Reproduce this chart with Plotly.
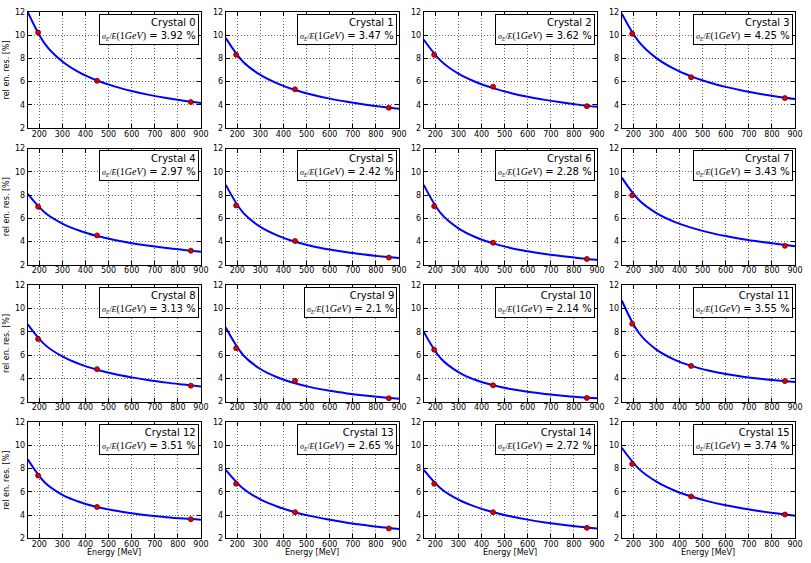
import plotly.graph_objects as go
from plotly.subplots import make_subplots

# ---------------- data ----------------
crystals = list(range(16))
resolution_1gev = [3.92, 3.47, 3.62, 4.25, 2.97, 2.42, 2.28, 3.43,
                   3.13, 2.1, 2.14, 3.55, 3.51, 2.65, 2.72, 3.74]

# measured points (energy MeV, rel. resolution %)
meas_energy = [
    [195, 450, 856], [195, 450, 856], [195, 450, 856], [195, 450, 856],
    [195, 450, 856], [195, 450, 856], [195, 450, 856], [195, 856],
    [195, 450, 856], [195, 450, 856], [195, 450, 856], [195, 450, 856],
    [195, 450, 856], [195, 450, 856], [195, 450, 856], [195, 450, 856],
]
meas_res = [
    [10.22, 6.06, 4.24], [8.30, 5.33, 3.74], [8.30, 5.56, 3.88], [10.12, 6.37, 4.58],
    [7.00, 4.53, 3.21], [7.11, 4.05, 2.62], [7.05, 3.90, 2.50], [7.98, 3.63],
    [7.39, 4.79, 3.37], [6.60, 3.79, 2.28], [6.47, 3.40, 2.31], [8.70, 5.07, 3.76],
    [7.40, 4.70, 3.65], [6.70, 4.25, 2.85], [6.70, 4.25, 2.90], [8.40, 5.60, 4.05],
]

# fitted curve at evenly spaced energies
fit_energy = [150, 225, 300, 375, 450, 525, 600, 675, 750, 825, 900]
fit_res = [
    [12.00, 9.23, 7.73, 6.77, 6.09, 5.58, 5.18, 4.85, 4.58, 4.35, 4.15],
    [9.75, 7.71, 6.57, 5.82, 5.27, 4.86, 4.53, 4.26, 4.03, 3.83, 3.66],
    [9.60, 7.76, 6.68, 5.96, 5.43, 5.02, 4.69, 4.42, 4.19, 3.99, 3.82],
    [11.85, 9.40, 8.02, 7.11, 6.45, 5.94, 5.54, 5.21, 4.93, 4.69, 4.49],
    [8.10, 6.48, 5.55, 4.93, 4.48, 4.14, 3.86, 3.63, 3.44, 3.28, 3.13],
    [8.88, 6.49, 5.26, 4.51, 3.98, 3.60, 3.31, 3.07, 2.88, 2.71, 2.58],
    [8.88, 6.40, 5.14, 4.37, 3.84, 3.45, 3.16, 2.92, 2.73, 2.57, 2.43],
    [9.50, 7.55, 6.45, 5.72, 5.20, 4.79, 4.47, 4.20, 3.98, 3.79, 3.60],
    [8.65, 6.88, 5.88, 5.22, 4.74, 4.37, 4.08, 3.83, 3.63, 3.46, 3.30],
    [8.37, 6.01, 4.80, 4.07, 3.57, 3.20, 2.92, 2.70, 2.52, 2.37, 2.24],
    [8.00, 5.69, 4.54, 3.85, 3.40, 3.08, 2.84, 2.65, 2.50, 2.38, 2.28],
    [10.70, 7.88, 6.47, 5.63, 5.07, 4.67, 4.37, 4.14, 3.96, 3.81, 3.68],
    [8.80, 6.78, 5.75, 5.13, 4.70, 4.39, 4.16, 3.97, 3.82, 3.70, 3.60],
    [7.90, 6.29, 5.35, 4.72, 4.25, 3.89, 3.59, 3.35, 3.14, 2.96, 2.80],
    [7.90, 6.27, 5.33, 4.71, 4.25, 3.90, 3.61, 3.37, 3.17, 3.00, 2.85],
    [9.80, 7.96, 6.88, 6.14, 5.60, 5.18, 4.84, 4.56, 4.33, 4.13, 3.95],
]

x_ticks = [200, 300, 400, 500, 600, 700, 800, 900]
y_ticks = [2, 4, 6, 8, 10, 12]

# ---------------- figure ----------------
W, H = 811, 563
fig = make_subplots(rows=4, cols=4)

col_left = [28, 228, 428, 628]
plot_w = 175
row_top = [8, 147, 286, 425]
plot_h = 118

font = "DejaVu Sans"
serif = "Liberation Serif"

for i in crystals:
    r, c = divmod(i, 4)
    fig.add_trace(go.Scatter(x=fit_energy, y=fit_res[i], mode="lines",
                             line=dict(color="#0000ff", width=2, shape="spline", smoothing=1.0),
                             showlegend=False, hoverinfo="skip"),
                  row=r + 1, col=c + 1)
    fig.add_trace(go.Scatter(x=meas_energy[i], y=meas_res[i], mode="markers",
                             marker=dict(color="#e00000", size=5,
                                         line=dict(color="#600000", width=0.8)),
                             showlegend=False),
                  row=r + 1, col=c + 1)
    idx = "" if i == 0 else str(i + 1)
    x0 = col_left[c] / W
    x1 = (col_left[c] + plot_w) / W
    y1 = 1 - row_top[r] / H
    y0 = 1 - (row_top[r] + plot_h) / H
    axis_common = dict(showline=True, linecolor="black", linewidth=1, mirror="ticks",
                       ticks="inside", ticklen=4, tickcolor="black",
                       showgrid=True, gridcolor="#606060", griddash="1px,2px", gridwidth=1,
                       zeroline=False, tickfont=dict(family=font, size=8, color="black"))
    fig.layout["xaxis" + idx].update(domain=[x0, x1], range=[150, 900],
                                     tickvals=x_ticks, ticklabelstandoff=-2, **axis_common)
    fig.layout["yaxis" + idx].update(domain=[y0, y1], range=[2, 12],
                                     tickvals=y_ticks, **axis_common)
    if c == 0:
        fig.layout["yaxis" + idx].update(title=dict(text="rel en. res. [%]",
                                                    font=dict(family=font, size=8, color="black"),
                                                    standoff=4))
    if r == 3:
        fig.add_annotation(xref=("x" + idx + " domain"), yref=("y" + idx + " domain"),
                           x=0.5, y=0, xanchor="center", yanchor="top", yshift=-9,
                           borderpad=0,
                           text="Energy [MeV]", showarrow=False,
                           font=dict(family=font, size=8, color="black"))
    fig.add_annotation(
        xref=("x" + idx + " domain"), yref=("y" + idx + " domain"),
        x=0.99, y=0.985, xanchor="right", yanchor="top", align="right",
        text=(f"Crystal {i}<br>"
              f"<span style='font-family:{serif};font-size:8px'><i>σ<sub>E</sub></i>/<i>E</i></span>"
              f"<span style='font-family:{serif};font-size:10px'>(1<i>GeV</i>)</span>"
              f" = {resolution_1gev[i]} %"),
        showarrow=False, bgcolor="white", bordercolor="black", borderwidth=1,
        borderpad=2, font=dict(family=font, size=10, color="black"))

fig.update_layout(width=W, height=H, margin=dict(l=0, r=0, t=0, b=0),
                  paper_bgcolor="white", plot_bgcolor="white")

fig.write_html("out.html", config={"displayModeBar": False},
               post_script="document.body.style.margin='0px';")
